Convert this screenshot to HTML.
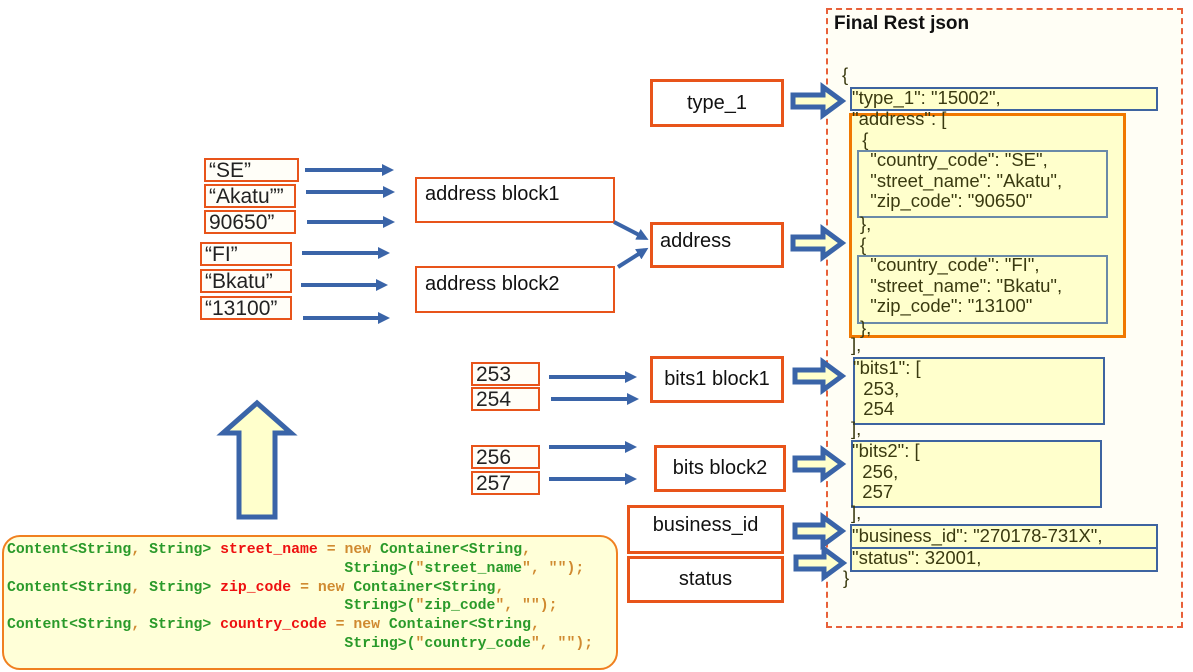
<!DOCTYPE html>
<html><head><meta charset="utf-8"><style>
body{margin:0;width:1193px;height:672px;background:#fff;position:relative;overflow:hidden;font-family:"Liberation Sans",sans-serif;}
.a{position:absolute;box-sizing:border-box;}
.n{border:3px solid #e8541a;background:#fff;font-size:20px;color:#111;display:flex;align-items:center;justify-content:center;}
.s{border:2px solid #e8541a;background:#fffef8;font-size:21px;color:#222;line-height:22px;padding-left:3px;white-space:nowrap;overflow:visible;}
.j{font-size:18.5px;color:#3a3a10;line-height:20.5px;white-space:pre;}
.bb{border:2px solid #3e64a0;background:#ffffcc;}
.ib{border:2px solid #6a8aa8;background:#ffffcc;}
.code{font-family:"Liberation Mono",monospace;font-weight:bold;font-size:14.8px;line-height:18.8px;white-space:pre;color:#2a9a2a;}
.r{color:#ee1010}.o{color:#d08a30}
</style></head><body>
<div class="a" style="left:826px;top:8px;width:357px;height:620px;border:2px dashed #e8603a;background:#fffef5;"></div>
<div class="a" style="left:834px;top:13px;font-size:19px;font-weight:bold;color:#111;">Final Rest json</div>
<div class="a j" style="left:842px;top:65px;">{</div>
<div class="a bb" style="left:850px;top:87px;width:308px;height:24px;"></div>
<div class="a j" style="left:852px;top:88px;">"type_1": "15002",</div>
<div class="a" style="left:849px;top:113px;width:277px;height:225px;border:3px solid #f07800;background:#ffffcc;"></div>
<div class="a j" style="left:852px;top:109px;">"address": [
  {</div>
<div class="a ib" style="left:857px;top:150px;width:251px;height:68px;"></div>
<div class="a j" style="left:860px;top:150px;">  "country_code": "SE",
  "street_name": "Akatu",
  "zip_code": "90650"</div>
<div class="a j" style="left:860px;top:214px;">},
{</div>
<div class="a ib" style="left:857px;top:255px;width:251px;height:69px;"></div>
<div class="a j" style="left:860px;top:255px;">  "country_code": "FI",
  "street_name": "Bkatu",
  "zip_code": "13100"</div>
<div class="a j" style="left:860px;top:318px;">},</div>
<div class="a j" style="left:851px;top:335px;">],</div>
<div class="a bb" style="left:853px;top:357px;width:252px;height:68px;"></div>
<div class="a j" style="left:853px;top:358px;">"bits1": [
  253,
  254</div>
<div class="a j" style="left:851px;top:419px;">],</div>
<div class="a bb" style="left:851px;top:440px;width:251px;height:68px;"></div>
<div class="a j" style="left:852px;top:441px;">"bits2": [
  256,
  257</div>
<div class="a j" style="left:851px;top:503px;">],</div>
<div class="a bb" style="left:850px;top:524px;width:308px;height:25px;"></div>
<div class="a bb" style="left:850px;top:547px;width:308px;height:25px;"></div>
<div class="a j" style="left:852px;top:526px;">"business_id": "270178-731X",</div>
<div class="a j" style="left:852px;top:548px;">"status": 32001,</div>
<div class="a j" style="left:843px;top:568px;">}</div>

<div class="a n" style="left:650px;top:79px;width:134px;height:48px;">type_1</div>
<div class="a n" style="left:650px;top:222px;width:134px;height:46px;justify-content:flex-start;padding-left:7px;padding-bottom:8px;">address</div>
<div class="a n" style="left:650px;top:356px;width:134px;height:47px;">bits1 block1</div>
<div class="a n" style="left:654px;top:445px;width:132px;height:47px;">bits block2</div>
<div class="a n" style="left:627px;top:505px;width:157px;height:49px;padding-bottom:8px;">business_id</div>
<div class="a n" style="left:627px;top:556px;width:157px;height:47px;">status</div>
<div class="a n" style="left:415px;top:177px;width:200px;height:46px;border-width:2px;justify-content:flex-start;padding-left:8px;padding-bottom:12px;">address block1</div>
<div class="a n" style="left:415px;top:266px;width:200px;height:47px;border-width:2px;justify-content:flex-start;padding-left:8px;padding-bottom:10px;">address block2</div>

<div class="a s" style="left:204px;top:158px;width:95px;height:24px;">“SE”</div>
<div class="a s" style="left:204px;top:184px;width:92px;height:24px;">“Akatu””</div>
<div class="a s" style="left:204px;top:210px;width:92px;height:24px;">90650”</div>
<div class="a s" style="left:200px;top:242px;width:92px;height:24px;">“FI”</div>
<div class="a s" style="left:200px;top:269px;width:92px;height:24px;">“Bkatu”</div>
<div class="a s" style="left:200px;top:296px;width:92px;height:24px;">“13100”</div>
<div class="a s" style="left:471px;top:362px;width:69px;height:24px;">253</div>
<div class="a s" style="left:471px;top:387px;width:69px;height:24px;">254</div>
<div class="a s" style="left:471px;top:445px;width:69px;height:24px;">256</div>
<div class="a s" style="left:471px;top:471px;width:69px;height:24px;">257</div>

<svg class="a" style="left:0;top:0" width="1193" height="672">
<defs><marker id="h" markerWidth="3" markerHeight="3" refX="2" refY="1.5" orient="auto"><path d="M0,0L3,1.5L0,3z" fill="#3a64a8"/></marker></defs>
<g stroke="#3a64a8" stroke-width="4" marker-end="url(#h)">
<line x1="305" y1="170" x2="390" y2="170"/>
<line x1="306" y1="192" x2="391" y2="192"/>
<line x1="307" y1="222" x2="391" y2="222"/>
<line x1="302" y1="253" x2="386" y2="253"/>
<line x1="301" y1="285" x2="384" y2="285"/>
<line x1="303" y1="318" x2="386" y2="318"/>
<line x1="549" y1="377" x2="633" y2="377"/>
<line x1="551" y1="399" x2="635" y2="399"/>
<line x1="549" y1="447" x2="633" y2="447"/>
<line x1="549" y1="479" x2="633" y2="479"/>
<line x1="614" y1="222" x2="645" y2="238"/>
<line x1="618" y1="267" x2="645" y2="250"/>
</g>
<g fill="#ffffcc" stroke="#3a64a8" stroke-width="5" stroke-linejoin="miter">
<path d="M793,95h30v-8l19,14l-19,14v-8h-30z"/>
<path d="M793,237h30v-8l19,14l-19,14v-8h-30z"/>
<path d="M795,370h28v-8l19,14l-19,14v-8h-28z"/>
<path d="M795,458h28v-8l19,14l-19,14v-8h-28z"/>
<path d="M795,525h28v-8l19,14l-19,14v-8h-28z"/>
<path d="M796,557h28v-8l19,14l-19,14v-8h-28z"/>
<path d="M239,517v-84h-16l34,-30l34,30h-16v84z"/>
</g>
</svg>

<div class="a" style="left:2px;top:535px;width:616px;height:135px;border:2px solid #f08020;border-radius:18px;background:#ffffd8;"></div>
<div class="a code" style="left:7px;top:541px;">Content&lt;String<span class="o">,</span> String&gt; <span class="r">street_name</span> <span class="o">= new</span> Container&lt;String<span class="o">,</span>
                                      String&gt;(<span class="o">"</span>street_name<span class="o">", "");</span>
Content&lt;String<span class="o">,</span> String&gt; <span class="r">zip_code</span> <span class="o">= new</span> Container&lt;String<span class="o">,</span>
                                      String&gt;(<span class="o">"</span>zip_code<span class="o">", "");</span>
Content&lt;String<span class="o">,</span> String&gt; <span class="r">country_code</span> <span class="o">= new</span> Container&lt;String<span class="o">,</span>
                                      String&gt;(<span class="o">"</span>country_code<span class="o">", "");</span></div>
</body></html>
